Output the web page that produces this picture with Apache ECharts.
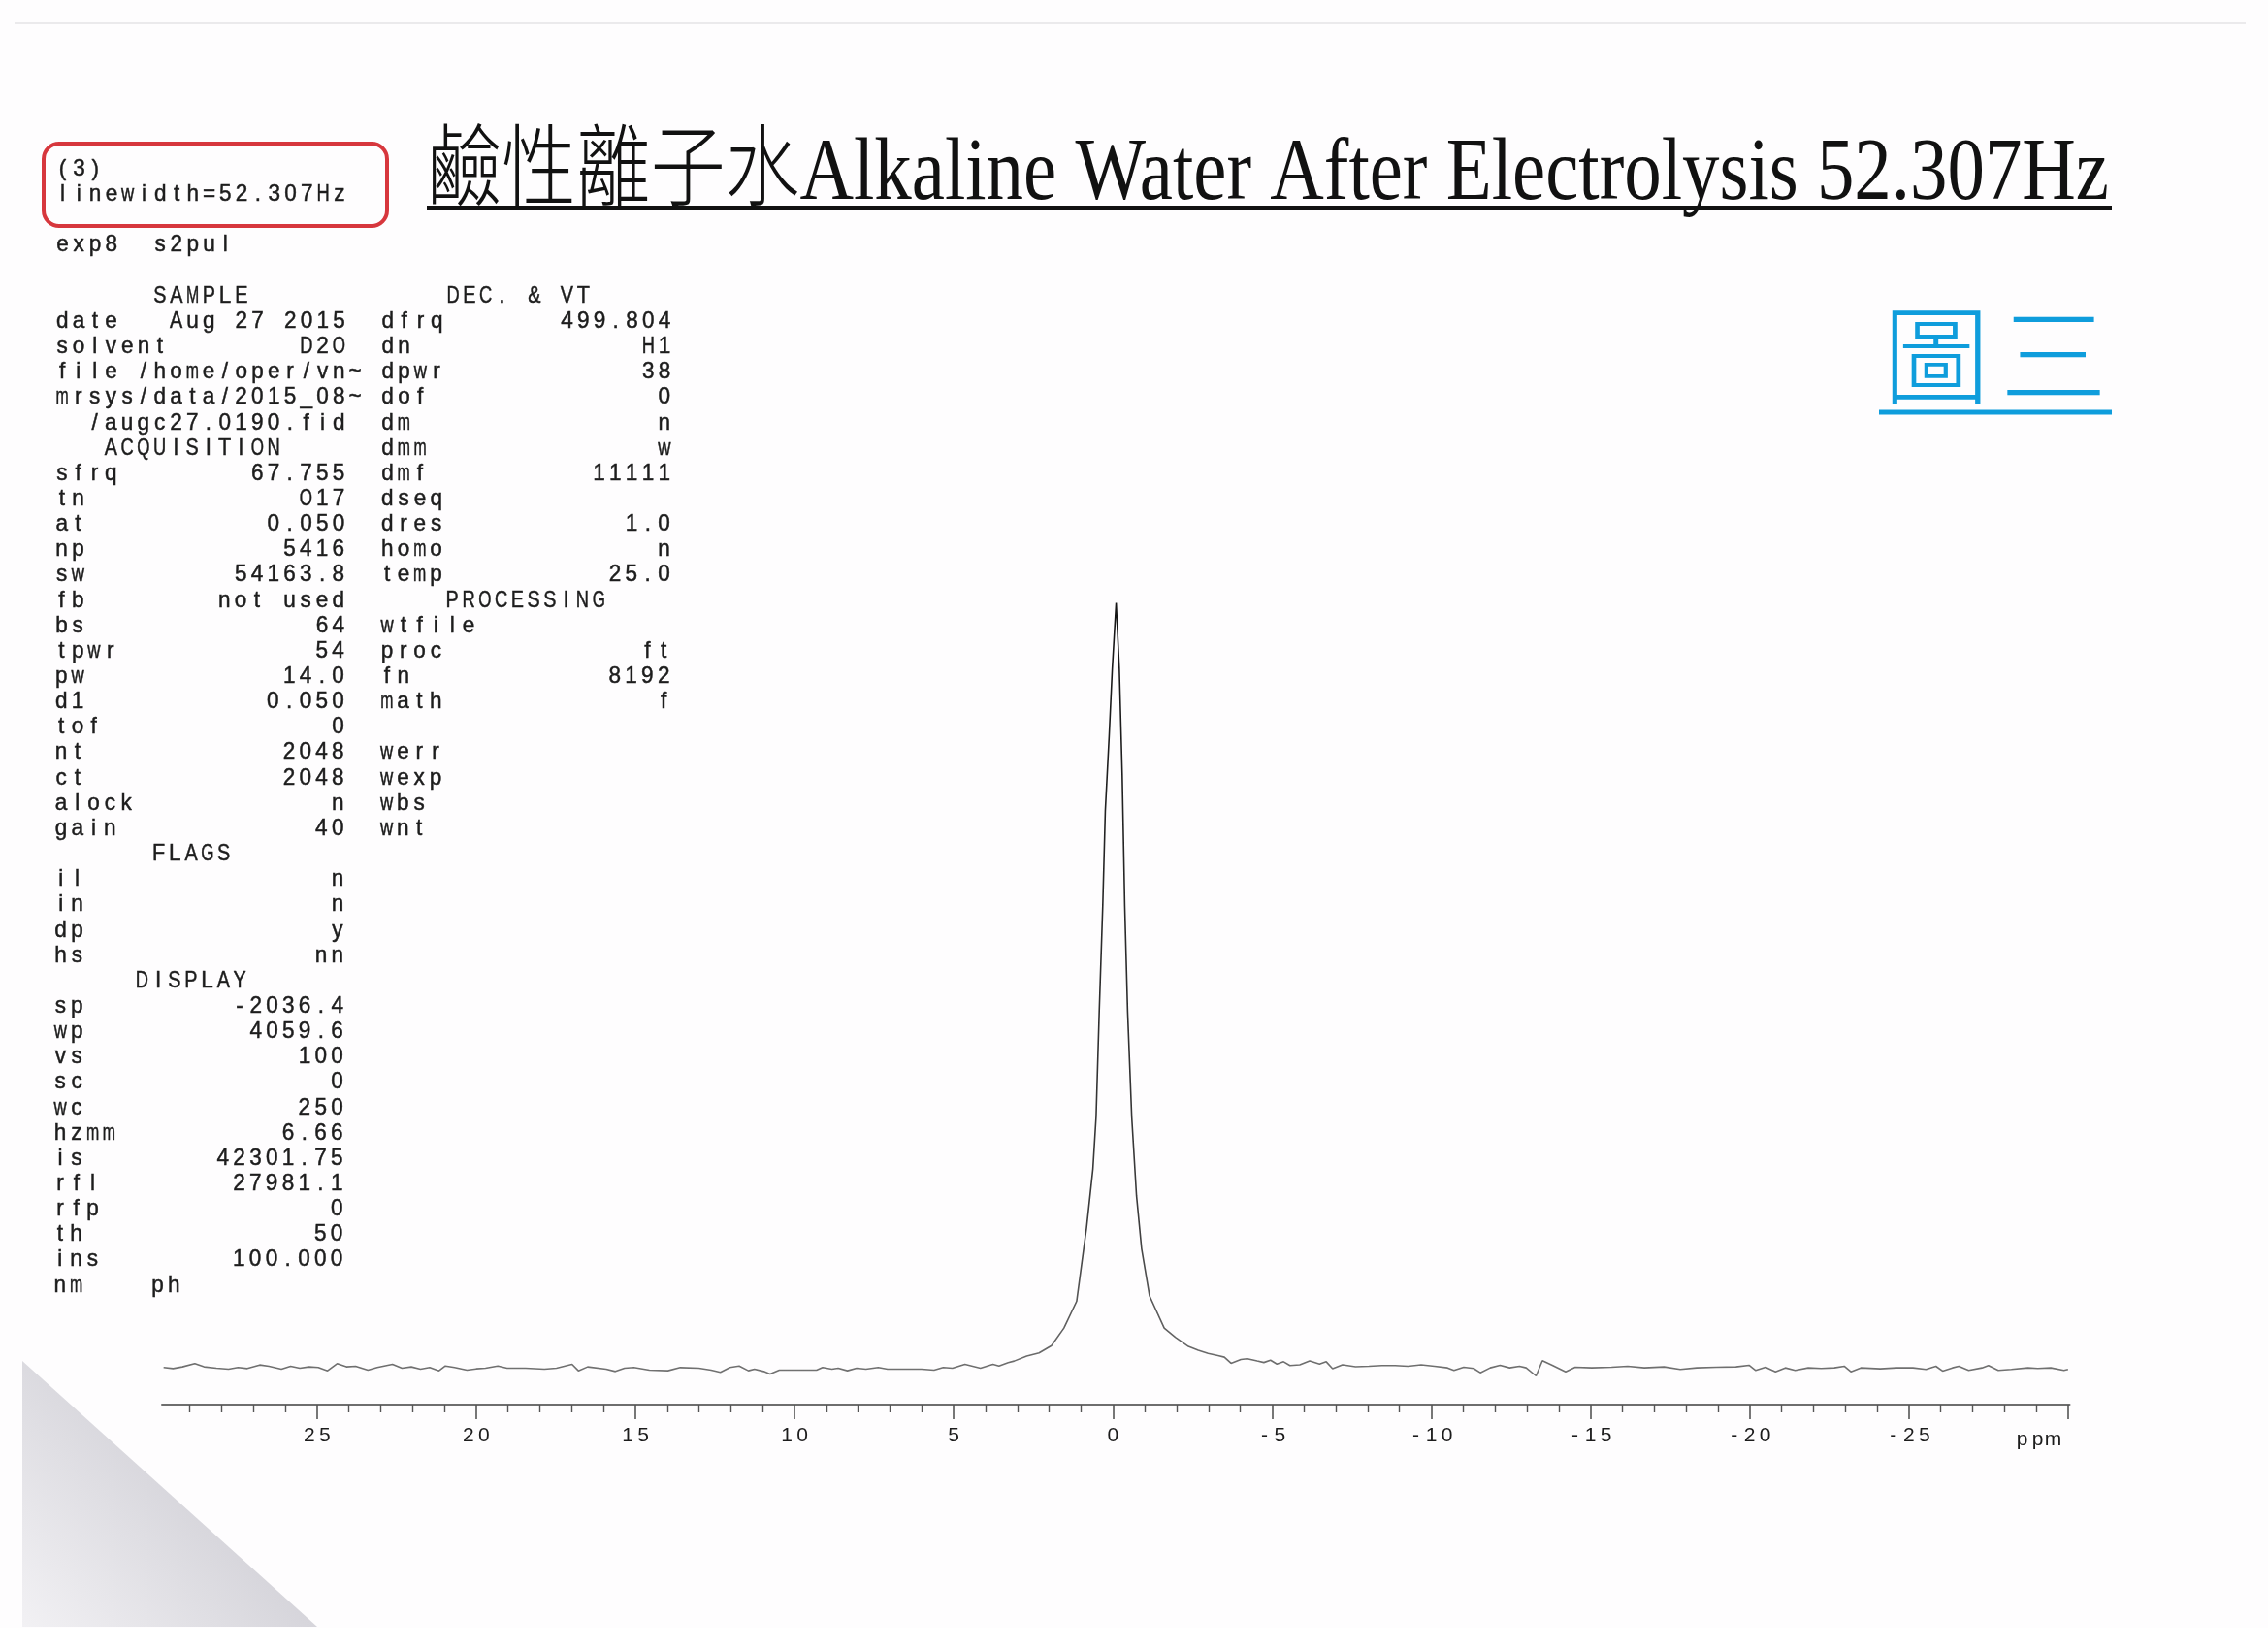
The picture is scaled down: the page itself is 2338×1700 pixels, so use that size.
<!DOCTYPE html>
<html>
<head>
<meta charset="utf-8">
<script src="https://cdn.jsdelivr.net/npm/echarts@6/dist/echarts.min.js"></script>
<style>
html,body{margin:0;padding:0;background:#fff;}
#chart{width:2338px;height:1700px;}
</style>
</head>
<body>
<div id="chart"></div>
<script>
// ---------------- DATA ----------------
const ppm = [
 29.82,29.52,29.23,28.84,28.55,28.16,27.78,27.48,27.19,26.80,26.51,26.12,25.83,25.54,25.25,24.96,
 24.67,24.37,24.08,23.79,23.40,23.11,22.63,22.33,22.04,21.75,21.46,21.17,20.97,20.68,20.29,20.00,
 19.71,19.32,19.03,18.45,17.86,17.48,16.99,16.79,16.50,15.92,15.63,15.34,15.05,14.56,13.98,13.59,
 13.01,12.62,12.33,12.03,11.74,11.45,11.26,10.97,10.77,10.48,9.90,9.31,9.12,8.83,8.63,8.34,8.05,
 7.76,7.37,7.08,6.59,6.01,5.62,5.33,5.04,4.65,4.16,3.77,3.58,3.29,3.10,2.71,2.32,1.93,1.54,1.14,
 0.83,0.63,0.53,0.43,0.32,0.24,0.12,0.02,-0.10,-0.20,-0.29,-0.37,-0.46,-0.59,-0.74,-0.90,-1.15,
 -1.61,-1.96,-2.37,-2.68,-2.99,-3.30,-3.50,-3.71,-4.02,-4.22,-4.53,-4.74,-4.95,-5.15,-5.36,-5.56,
 -5.87,-6.18,-6.49,-6.70,-6.90,-7.21,-7.62,-8.04,-8.45,-8.86,-9.27,-9.68,-10.10,-10.51,-10.71,
 -11.02,-11.33,-11.54,-11.85,-12.16,-12.46,-12.77,-12.98,-13.29,-13.49,-13.80,-14.22,-14.52,
 -15.04,-15.66,-16.17,-16.69,-17.31,-17.82,-18.34,-18.95,-19.57,-19.98,-20.19,-20.50,-20.81,
 -21.12,-21.43,-21.84,-22.25,-22.66,-22.97,-23.18,-23.49,-24.10,-24.62,-25.13,-25.54,-25.85,
 -26.06,-26.37,-26.57,-26.88,-27.30,-27.50,-27.81,-28.22,-28.74,-29.05,-29.46,-29.87,-30.00
];
const intensity = [
 0.04,-0.09,0.13,0.55,0.13,-0.04,-0.17,0.04,-0.09,0.38,0.21,-0.17,0.21,-0.04,0.13,0.04,
 -0.38,0.55,0.13,0.21,-0.30,0.04,0.47,-0.04,0.13,-0.17,0.04,-0.38,0.25,0.04,-0.30,-0.13,
 -0.04,0.25,-0.04,-0.04,-0.17,-0.04,0.47,-0.38,0.13,-0.17,-0.47,-0.04,0.04,-0.30,-0.38,0.04,
 -0.04,-0.30,-0.59,0.04,0.25,-0.38,-0.17,-0.47,-0.81,-0.30,-0.30,-0.30,0.04,-0.17,-0.04,-0.38,-0.04,
 -0.17,0.04,-0.17,-0.17,-0.17,-0.30,0.04,-0.04,0.47,-0.04,0.47,0.25,0.68,0.89,1.53,1.95,2.9,5.2,8.7,
 18.3,26.0,32.8,46.6,60.4,72.8,82.5,91.4,100,91.4,77.6,60.4,46.6,32.8,22.5,15.6,9.4,
 5.2,4.0,2.8,2.3,1.9,1.6,1.4,0.6,1.1,1.2,0.9,0.7,1.0,0.5,0.8,0.3,
 0.4,0.9,0.5,0.8,-0.1,0.4,0.15,0.2,0.3,0.3,0.2,0.4,0.2,0.0,-0.34,
 0.08,-0.08,-0.64,0.0,0.34,0.0,0.21,0.0,-1.06,0.93,0.34,-0.51,0.08,
 0.0,0.08,0.21,0.0,0.13,-0.21,0.0,0.08,0.13,0.34,-0.34,0.08,-0.51,
 0.0,-0.34,0.0,-0.08,0.0,0.21,-0.51,0.0,-0.13,0.0,0.0,-0.21,0.21,
 -0.42,0.0,0.21,-0.34,0.0,0.30,-0.34,-0.21,0.0,-0.08,0.0,-0.34,-0.2
];
const majorTickValues = [25,20,15,10,5,0,-5,-10,-15,-20,-25,-30];
const tickLabelValues = [25,20,15,10,5,0,-5,-10,-15,-20,-25];
const minorTickValues = [29,28,27,26,24,23,22,21,19,18,17,16,14,13,12,11,9,8,7,6,4,3,2,1,
  -1,-2,-3,-4,-6,-7,-8,-9,-11,-12,-13,-14,-16,-17,-18,-19,-21,-22,-23,-24,-26,-27,-28,-29];
const axisUnit = 'ppm';
const ppmMin = -30.05, ppmMax = 29.87;

const titleText = '鹼性離子水Alkaline Water After Electrolysis 52.307Hz';
const figureLabel = ['圖', '三'];
const boxLines = ['(3)', 'linewidth=52.307Hz'];
const expLine = 'exp8  s2pul';
const leftColumn = [
 '      SAMPLE',
 ['date','Aug 27 2015'], ['solvent','D2O'],
 'file /home/oper/vn~', 'mrsys/data/2015_08~', '  /augc27.0190.fid',
 '   ACQUISITION',
 ['sfrq','67.755'], ['tn','O17'], ['at','0.050'], ['np','5416'], ['sw','54163.8'],
 ['fb','not used'], ['bs','64'], ['tpwr','54'], ['pw','14.0'], ['d1','0.050'], ['tof','0'],
 ['nt','2048'], ['ct','2048'], ['alock','n'], ['gain','40'],
 '      FLAGS',
 ['il','n'], ['in','n'], ['dp','y'], ['hs','nn'],
 '     DISPLAY',
 ['sp','-2036.4'], ['wp','4059.6'], ['vs','100'], ['sc','0'], ['wc','250'], ['hzmm','6.66'],
 ['is','42301.75'], ['rfl','27981.1'], ['rfp','0'], ['th','50'], ['ins','100.000'],
 'nm    ph'
];
const rightColumn = [
 '    DEC. & VT',
 ['dfrq','499.804'], ['dn','H1'], ['dpwr','38'], ['dof','0'], ['dm','n'], ['dmm','w'],
 ['dmf','11111'], ['dseq',''], ['dres','1.0'], ['homo','n'], ['temp','25.0'],
 '    PROCESSING',
 ['wtfile',''], ['proc','ft'], ['fn','8192'], ['math','f'],
 '',
 ['werr',''], ['wexp',''], ['wbs',''], ['wnt','']
];

// ---------------- LAYOUT HELPERS ----------------
const measure = document.createElement('canvas').getContext('2d');
const MONO_FONT = 'Liberation Sans';
const MONO_SIZE = 24.5;
const TEXT_COLOR = '#1c1c1c';
const PITCH = 16.78;

function cell(e) {
  if (typeof e === 'string') return e;
  const pad = Math.max(1, 18 - e[0].length - e[1].length);
  return e[1] === '' ? e[0] : e[0] + ' '.repeat(pad) + e[1];
}
function charElements(str, row) {
  const els = [];
  const x0 = 55.9 - 0.066 * row;
  const yc = 305 + row * 26.15;
  measure.font = MONO_SIZE + 'px "' + MONO_FONT + '"';
  for (let i = 0; i < str.length; i++) {
    const ch = str[i];
    if (ch === ' ') continue;
    const w = measure.measureText(ch).width;
    const sx = Math.min(0.92, 13.2 / w);
    els.push({
      type: 'text', x: x0 + i * PITCH + PITCH / 2, y: yc, scaleX: sx, silent: true,
      style: { text: ch, fontFamily: MONO_FONT, fontSize: MONO_SIZE, fill: TEXT_COLOR,
               stroke: TEXT_COLOR, lineWidth: 0.5,
               align: 'center', verticalAlign: 'middle' }
    });
  }
  return els;
}

const textEls = [];
textEls.push(...charElements(boxLines[0], -5));
textEls.push(...charElements(boxLines[1], -4));
textEls.push(...charElements(expLine, -2));
for (let r = 0; r < leftColumn.length; r++) {
  const l = cell(leftColumn[r]).padEnd(20, ' ');
  const rt = r < rightColumn.length ? cell(rightColumn[r]) : '';
  textEls.push(...charElements(l + rt, r));
}

// title scaling to the width it occupies in the scan
const TITLE_SIZE = 92;
measure.font = '300 ' + TITLE_SIZE + 'px "Liberation Serif", "Noto Sans CJK TC"';
const titleW = measure.measureText(titleText).width;
const titleScale = 1734 / titleW;

function charRich(s) { return String(s).split('').map(c => '{d|' + c + '}').join(''); }
const labelRich = { d: { width: 16, align: 'center', fontFamily: MONO_FONT, fontSize: 21, color: '#1c1c1c' } };

const chart = echarts.init(document.getElementById('chart'), null, { renderer: 'canvas' });
const option = {
  animation: false,
  backgroundColor: '#fefdfe',
  grid: { left: 167, right: 204.5, top: 582, bottom: 252, containLabel: false },
  xAxis: [
    {
      type: 'value', min: ppmMin, max: ppmMax, inverse: true, position: 'bottom',
      name: axisUnit.split('').map(c => '{d|' + c + '}').join(''), nameLocation: 'start', nameGap: -33,
      nameTextStyle: { align: 'center', verticalAlign: 'top', padding: [26, 0, 0, 0], rich: labelRich },
      axisLine: { show: true, onZero: false, lineStyle: { color: '#6e6e6e', width: 2 } },
      axisTick: { show: true, customValues: majorTickValues, length: 15, lineStyle: { color: '#555', width: 1.6 } },
      axisLabel: { show: true, customValues: tickLabelValues, margin: 22,
                   formatter: v => charRich(v), rich: labelRich },
      splitLine: { show: false }
    },
    {
      type: 'value', min: ppmMin, max: ppmMax, inverse: true, position: 'bottom',
      axisLine: { show: false, onZero: false },
      axisTick: { show: true, customValues: minorTickValues, length: 8, lineStyle: { color: '#555', width: 1.4 } },
      axisLabel: { show: false },
      splitLine: { show: false }
    }
  ],
  yAxis: { type: 'value', min: -4.8, max: 105, show: false },
  series: [{
    type: 'line',
    xAxisIndex: 0,
    data: ppm.map((p, i) => [p, intensity[i]]),
    showSymbol: false,
    symbol: 'none',
    lineStyle: {
      width: 1.6,
      color: new echarts.graphic.LinearGradient(0, 0, 0, 1, [
        { offset: 0, color: '#141414' },
        { offset: 0.8, color: '#3c3c3c' },
        { offset: 0.97, color: '#6a6a6a' },
        { offset: 1, color: '#747474' }
      ])
    },
    silent: true
  }],
  graphic: { elements: [
    // page edge and folded corner shading of the scan
    { type: 'line', silent: true, shape: { x1: 15, y1: 24, x2: 2315, y2: 24 }, style: { stroke: '#ebeaec', lineWidth: 2 } },
    { type: 'polygon', silent: true, shape: { points: [[23, 1403], [327, 1677], [23, 1677]] },
      style: { fill: new echarts.graphic.LinearGradient(0.55, 0.45, 0, 1, [
        { offset: 0, color: '#d6d5db' }, { offset: 1, color: '#f2f1f4' } ]) } },
    { type: 'rect', silent: true, shape: { x: 0, y: 1678, width: 2338, height: 22 }, style: { fill: '#ffffff' } },
    // red annotation box
    { type: 'rect', silent: true, shape: { x: 45, y: 148, width: 354, height: 85, r: 16 },
      style: { fill: 'none', stroke: '#d7373d', lineWidth: 4 } },
    // title with underline
    { type: 'text', silent: true, x: 440, y: 181, scaleX: titleScale,
      style: { text: titleText, fontFamily: '"Liberation Serif", "Noto Sans CJK TC"', fontWeight: 300, fontSize: TITLE_SIZE,
               fill: '#111', align: 'left', verticalAlign: 'middle' } },
    { type: 'line', silent: true, shape: { x1: 440, y1: 214, x2: 2177, y2: 214 }, style: { stroke: '#111', lineWidth: 4 } },
    // blue figure label
    { type: 'text', silent: true, x: 1996, y: 366,
      style: { text: figureLabel[0], fontFamily: '"Noto Sans CJK TC"', fontWeight: 300, fontSize: 110, fill: '#0f9ddc', align: 'center', verticalAlign: 'middle' } },
    { type: 'text', silent: true, x: 2117, y: 366,
      style: { text: figureLabel[1], fontFamily: '"Noto Sans CJK TC"', fontWeight: 300, fontSize: 110, fill: '#0f9ddc', align: 'center', verticalAlign: 'middle' } },
    { type: 'line', silent: true, shape: { x1: 1937, y1: 425, x2: 2177, y2: 425 }, style: { stroke: '#0f9ddc', lineWidth: 5 } },
    ...textEls
  ] }
};
chart.setOption(option);
</script>
</body>
</html>
